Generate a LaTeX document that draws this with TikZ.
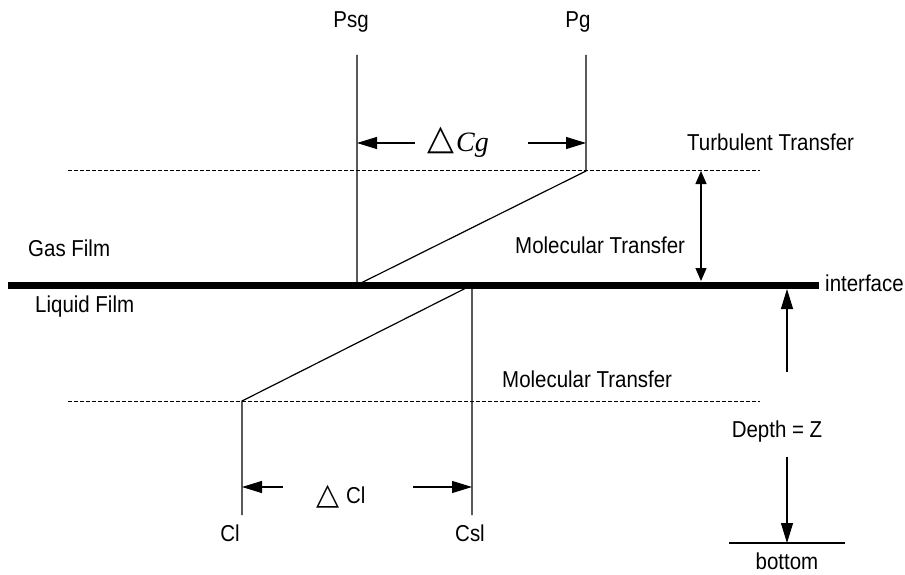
\documentclass[tikz,border=0pt]{standalone}
\usepackage{fontspec}
\setmainfont{Liberation Sans}[FakeStretch=0.89]
\newfontfamily\symfont{DejaVu Sans}
\newfontfamily\timesfont{Liberation Serif}
\usetikzlibrary{arrows.meta}

\newcommand{\lblsize}{\fontsize{23}{26}\selectfont}

\tikzset{
  lbl/.style={font=\lblsize, inner sep=0pt, anchor=base west},
  thin line/.style={line width=1.2pt},
  film line/.style={line width=1pt, dash pattern=on 4pt off 2pt},
  big tip/.style={-{Triangle[length=20pt,width=12pt]}},
  small tip/.style={{Triangle[length=13pt,width=11pt]}-{Triangle[length=13pt,width=11pt]}},
  tri/.style={font=\symfont\fontsize{35}{35}\selectfont, inner sep=0pt}
}

\begin{document}
\begin{tikzpicture}[x=1pt, y=-1pt]
\useasboundingbox (0,0) rectangle (905,575);

% Hulppunten
\coordinate (psgtop) at (357,55);
\coordinate (psgbot) at (357,285);
\coordinate (pgtop)  at (586,55);
\coordinate (pgbot)  at (586,171);
\coordinate (csltop) at (472,285);
\coordinate (cslbot) at (472,515);
\coordinate (cltop)  at (242,401);
\coordinate (clbot)  at (242,515);

% Grensvlak en filmgrenzen
\draw[line width=7pt] (8,285) coordinate (ifleft) -- (819,285) coordinate (ifright);
\draw[film line] (68,171) coordinate (turbl) -- (760,171) coordinate (turbr);
\draw[film line] (68,401) coordinate (moll) -- (760,401) coordinate (molr);

% Gasfase
\draw[thin line] (psgtop) -- (psgbot) -- (pgbot) -- (pgtop);
\node[lbl, anchor=base] (psg) at (351,28) {Psg};
\node[lbl, anchor=base] (pg) at (578,28) {Pg};

% Vloeistoffase
\draw[thin line] (cslbot) -- (csltop) -- (cltop) -- (clbot);
\node[lbl, anchor=base] (cl) at (230,541) {Cl};
\node[lbl, anchor=base] (csl) at (470,541) {Csl};

% Delta Cg
\node[tri] (dcgtri) at (441,140) {△};
\node[font=\timesfont\itshape\fontsize{28}{28}\selectfont, inner sep=0pt, anchor=base west]
    (dcg) at (456,152) {Cg};
\coordinate (dcgl) at (415,143);
\coordinate (dcgr) at (528,143);
\draw[thin line, big tip] (dcgl) -- (psgtop |- dcgl);
\draw[thin line, big tip] (dcgr) -- (pgtop |- dcgr);

% Delta Cl
\node[tri, font=\symfont\fontsize{30}{30}\selectfont] (dcltri) at (328,497) {△};
\node[lbl] (dcl) at (346,503) {Cl};
\coordinate (dcll) at (283,487);
\coordinate (dclr) at (413,487);
\draw[thin line, big tip] (dcll) -- (clbot |- dcll);
\draw[thin line, big tip] (dclr) -- (cslbot |- dclr);

% Teksten
\node[lbl] (turb) at (687,150) {Turbulent Transfer};
\node[lbl] (molup) at (515,253) {Molecular Transfer};
\node[lbl] (gas) at (28,256) {Gas Film};
\node[lbl] (liq) at (35,312) {Liquid Film};
\node[lbl] (moldown) at (502,387) {Molecular Transfer};
\node[lbl] (iface) at (825,291) {interface};

% Diepte
\coordinate (filmtop) at (701,171);
\coordinate (filmbot) at (701,281);
\draw[thin line, small tip] (filmtop) -- (filmbot);
\coordinate (depthup) at (787,372);
\coordinate (depthtop) at (787,289);
\draw[thin line, big tip] (depthup) -- (depthtop);
\node[lbl, anchor=base] (depth) at (777,437) {Depth = Z};
\coordinate (depthdown) at (787,457);
\draw[thin line] (729,543) coordinate (botl) -- (845,543) coordinate (botr);
\draw[thin line, big tip] (depthdown) -- (depthdown |- botl);
\node[lbl, anchor=base] (bottom) at (787,569) {bottom};
\end{tikzpicture}
\end{document}
